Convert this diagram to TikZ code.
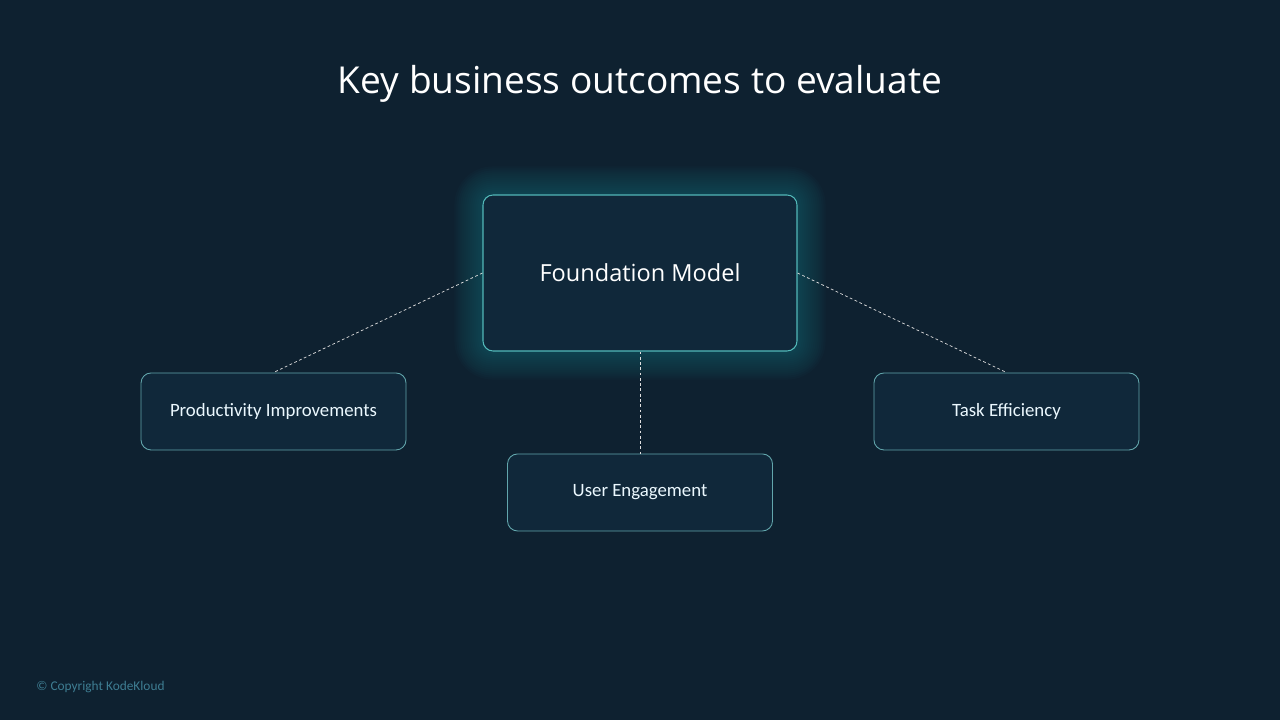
\documentclass[tikz,border=0pt]{standalone}
\usepackage{fontspec}
\setmainfont{Open Sans}
\newfontfamily\boxfont{Carlito}
\usepackage{xcolor}
\usetikzlibrary{positioning, backgrounds, calc}

\definecolor{bgnavy}{HTML}{0E2130}
\definecolor{boxfill}{HTML}{10283A}
\definecolor{tealedge}{HTML}{52B8B8}
\definecolor{softedge}{HTML}{62A6AC}
\definecolor{glowteal}{HTML}{1E8C96}
\definecolor{dimtext}{HTML}{3E7D92}

\begin{document}
\begin{tikzpicture}[
	% --- Styles ---
	mainblock/.style={
		rectangle, draw=tealedge, rounded corners=0.2cm, fill=boxfill, line width=0.6pt,
		minimum width=6.28cm, minimum height=3.12cm, align=center, text=white,
		font=\fontsize{13.4}{16}\selectfont
	},
	outcomeblock/.style={
		rectangle, draw=softedge, rounded corners=0.2cm, fill=boxfill, line width=0.5pt,
		minimum width=5.3cm, minimum height=1.54cm, align=center, text=white!92!cyan,
		font=\boxfont\fontsize{10.7}{13}\selectfont
	},
	link/.style={
		draw=white!75!gray, line width=0.4pt, dash pattern=on 1.6pt off 1.4pt
	}
	]
	
	% --- Canvas ---
	\useasboundingbox (0,0) rectangle (25.6,14.4);
	\begin{pgfonlayer}{background}
		\fill[bgnavy] (0,0) rectangle (25.6,14.4);
	\end{pgfonlayer}
	
	% --- Title ---
	\node [text=white, font=\fontsize{21.1}{25}\selectfont] (title) at (12.8,12.72) {Key business outcomes to evaluate};
	
	% --- 1. Central block ---
	\node [mainblock] (found) at (12.8,8.94) {Foundation Model};
	
	% Glow round the central block
	\begin{pgfonlayer}{background}
		\foreach \g in {1,...,14}{
			\fill [glowteal, fill opacity=0.03, rounded corners=0.2cm+\g*0.04cm]
				($(found.south west)+(-\g*0.04,-\g*0.04)$) rectangle ($(found.north east)+(\g*0.04,\g*0.04)$);
		}
	\end{pgfonlayer}
	
	% --- 2. Outcomes ---
	\node [outcomeblock, below left=0.42cm and 1.52cm of found] (prod) {Productivity Improvements};
	\node [outcomeblock, below right=0.42cm and 1.52cm of found] (task) {Task Efficiency};
	\node [outcomeblock, below=2.04cm of found] (user) {User Engagement};
	
	% --- Connections ---
	\draw [link] (found.west) -- (prod.north);
	\draw [link] (found.east) -- (task.north);
	\draw [link] (found.south) -- (user.north);
	
	% --- Footer ---
	\node [anchor=west, text=dimtext, font=\boxfont\fontsize{7.6}{9}\selectfont, inner sep=0pt] (copy) at (0.72,0.66) {\textcopyright{} Copyright KodeKloud};
	
\end{tikzpicture}
\end{document}
